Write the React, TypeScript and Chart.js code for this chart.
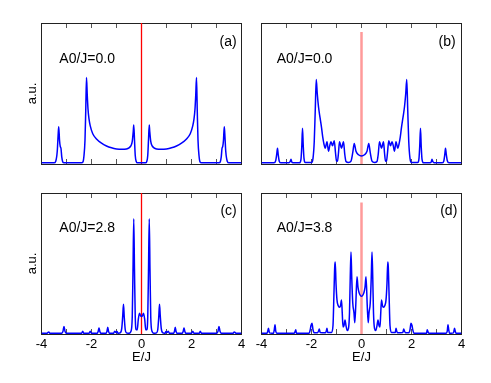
import React, { useEffect, useRef } from 'react';
import { Chart, registerables } from 'chart.js';

Chart.register(...registerables);

const FONT = '"Liberation Sans", Arial, Helvetica, sans-serif';

// ---------- axis ticks / titles ----------
const xTicks = [-4, -3, -2, -1, 0, 1, 2, 3, 4];
const xTickLabels = ['-4', '', '-2', '', '0', '', '2', '', '4'];
const xTitle = 'E/J';
const yTitle = 'a.u.';

// ---------- panel texts ----------
const panelLabels = ['A0/J=0.0', 'A0/J=0.0', 'A0/J=2.8', 'A0/J=3.8'];
const panelTags = ['(a)', '(b)', '(c)', '(d)'];

// ---------- red marker line at E=0 (height in plot units) ----------
const markerTops = [1, 0.936, 1, 0.932];

// ---------- panel (a) ----------
const energyA = [-4, -3.5, -3.43, -3.37, -3.33, -3.31, -3.28, -3.25, -3.22, -3.19, -3.15, -3.1,
  -2.4, -2.34, -2.3, -2.26, -2.23, -2.2, -2.17, -2.14, -2.1, -2.05, -1.95, -1.8,
  -1.6, -1.4, -1.2, -1.0, -0.8, -0.6, -0.5, -0.42, -0.37, -0.33, -0.31, -0.28, -0.25, -0.21, -0.16,
  0,
  0.16, 0.21, 0.25, 0.28, 0.31, 0.33, 0.37, 0.42, 0.5, 0.6, 0.8, 1.0, 1.2, 1.4, 1.6,
  1.8, 1.95, 2.05, 2.1, 2.14, 2.17, 2.2, 2.23, 2.26, 2.3, 2.34, 2.4,
  3.1, 3.15, 3.19, 3.22, 3.25, 3.28, 3.31, 3.33, 3.37, 3.43, 3.5, 4];
const dosA = [0.008, 0.008, 0.02, 0.09, 0.22, 0.265, 0.17, 0.125, 0.11, 0.05, 0.015, 0.008,
  0.008, 0.015, 0.06, 0.17, 0.38, 0.613, 0.49, 0.39, 0.32, 0.27, 0.215, 0.178,
  0.148, 0.128, 0.115, 0.107, 0.104, 0.107, 0.115, 0.13, 0.16, 0.23, 0.276, 0.17, 0.06, 0.018, 0.008,
  0.008,
  0.008, 0.018, 0.06, 0.17, 0.276, 0.23, 0.16, 0.13, 0.115, 0.107, 0.104, 0.107, 0.115, 0.128, 0.148,
  0.178, 0.215, 0.27, 0.32, 0.39, 0.49, 0.613, 0.38, 0.17, 0.06, 0.015, 0.008,
  0.008, 0.015, 0.05, 0.11, 0.125, 0.17, 0.265, 0.22, 0.09, 0.02, 0.008, 0.008];

// ---------- panel (b) ----------
const energyB = [-4, -3.5, -3.43, -3.39, -3.36, -3.33, -3.29, -3.22,
  -2.9, -2.85, -2.82, -2.79, -2.74,
  -2.48, -2.42, -2.39, -2.36, -2.33, -2.3, -2.25,
  -2.0, -1.94, -1.89, -1.85, -1.81, -1.77, -1.72, -1.66, -1.6, -1.55, -1.5, -1.45,
  -1.38, -1.32, -1.27, -1.22, -1.16, -1.09, -1.04, -1.0, -0.96, -0.92, -0.88, -0.8, -0.72, -0.67, -0.62, -0.52, -0.42, -0.35, -0.29, -0.22, -0.12,
  0,
  0.12, 0.22, 0.29, 0.35, 0.42, 0.52, 0.62, 0.67, 0.72, 0.8, 0.88, 0.92, 0.96, 1.0, 1.04, 1.09, 1.16, 1.22, 1.27, 1.32, 1.38,
  1.45, 1.5, 1.55, 1.6, 1.66, 1.72, 1.77, 1.81, 1.85, 1.89, 1.94, 2.0,
  2.25, 2.3, 2.33, 2.36, 2.39, 2.42, 2.48,
  2.74, 2.79, 2.82, 2.85, 2.9,
  3.22, 3.29, 3.33, 3.36, 3.39, 3.43, 3.5, 4];
const dosB = [0.008, 0.008, 0.025, 0.07, 0.111, 0.065, 0.02, 0.008,
  0.008, 0.018, 0.033, 0.015, 0.008,
  0.008, 0.035, 0.12, 0.253, 0.13, 0.04, 0.01,
  0.01, 0.04, 0.16, 0.38, 0.599, 0.5, 0.406, 0.33, 0.26, 0.19, 0.14, 0.112,
  0.158, 0.09, 0.13, 0.158, 0.13, 0.165, 0.08, 0.022, 0.02, 0.08, 0.158, 0.112, 0.158, 0.07, 0.018, 0.01, 0.02, 0.08, 0.146, 0.09, 0.066,
  0.057,
  0.066, 0.09, 0.146, 0.08, 0.02, 0.01, 0.018, 0.07, 0.158, 0.112, 0.158, 0.08, 0.02, 0.022, 0.08, 0.165, 0.13, 0.158, 0.13, 0.09, 0.158,
  0.112, 0.14, 0.19, 0.26, 0.33, 0.406, 0.5, 0.599, 0.38, 0.16, 0.04, 0.01,
  0.01, 0.04, 0.13, 0.253, 0.12, 0.035, 0.008,
  0.008, 0.015, 0.033, 0.018, 0.008,
  0.008, 0.02, 0.065, 0.111, 0.07, 0.025, 0.008, 0.008];

// ---------- panel (c) ----------
const energyC = [-4, -3.78, -3.74, -3.71, -3.66,
  -3.2, -3.14, -3.1, -3.06, -3.0,
  -2.4, -2.35, -2.31,
  -2.1, -2.05, -2.0,
  -1.77, -1.73, -1.7, -1.67, -1.63,
  -1.42, -1.38, -1.35, -1.32, -1.28,
  -1.12, -1.07, -1.02, -0.98, -0.94,
  -0.86, -0.79, -0.75, -0.72, -0.69, -0.65, -0.6,
  -0.5, -0.42, -0.37, -0.34, -0.31, -0.28, -0.25, -0.21,
  -0.17, -0.13, -0.08, -0.04,
  0,
  0.04, 0.08, 0.13, 0.17,
  0.21, 0.25, 0.28, 0.31, 0.34, 0.37, 0.42, 0.5,
  0.6, 0.65, 0.69, 0.72, 0.75, 0.79, 0.86,
  0.94, 0.98, 1.02, 1.07, 1.12,
  1.28, 1.32, 1.35, 1.38, 1.42,
  1.63, 1.67, 1.7, 1.73, 1.77,
  2.0, 2.05, 2.1,
  2.31, 2.35, 2.4,
  3.0, 3.06, 3.1, 3.14, 3.2,
  3.66, 3.71, 3.74, 3.78, 4];
const dosC = [0.005, 0.005, 0.012, 0.015, 0.005,
  0.005, 0.02, 0.054, 0.02, 0.005,
  0.005, 0.02, 0.005,
  0.005, 0.02, 0.005,
  0.005, 0.02, 0.042, 0.02, 0.005,
  0.005, 0.02, 0.047, 0.02, 0.005,
  0.005, 0.02, 0.01, 0.018, 0.005,
  0.008, 0.04, 0.13, 0.211, 0.12, 0.03, 0.008,
  0.005, 0.02, 0.12, 0.45, 0.817, 0.45, 0.12, 0.03,
  0.03, 0.1, 0.148, 0.13,
  0.124,
  0.13, 0.148, 0.1, 0.03,
  0.03, 0.12, 0.45, 0.817, 0.45, 0.12, 0.02, 0.005,
  0.008, 0.03, 0.12, 0.211, 0.13, 0.04, 0.008,
  0.005, 0.018, 0.01, 0.02, 0.005,
  0.005, 0.02, 0.047, 0.02, 0.005,
  0.005, 0.02, 0.042, 0.02, 0.005,
  0.005, 0.02, 0.005,
  0.005, 0.02, 0.005,
  0.005, 0.02, 0.054, 0.02, 0.005,
  0.005, 0.015, 0.012, 0.005, 0.005];

// ---------- panel (d) ----------
const energyD = [-4, -3.78, -3.75, -3.72, -3.68,
  -3.52, -3.49, -3.46, -3.43, -3.38,
  -2.7, -2.66, -2.63, -2.6,
  -2.1, -2.05, -2.02, -1.98, -1.94, -1.88,
  -1.76, -1.72, -1.69, -1.65,
  -1.45, -1.41, -1.38, -1.35,
  -1.2, -1.14, -1.1, -1.07, -1.05, -1.02, -0.98, -0.93, -0.88, -0.84, -0.8, -0.77, -0.74, -0.7, -0.66,
  -0.62, -0.57, -0.52, -0.48, -0.45, -0.42, -0.39, -0.35, -0.3, -0.27, -0.23, -0.18, -0.14, -0.09, -0.04,
  0,
  0.04, 0.09, 0.14, 0.18, 0.23, 0.27, 0.3, 0.35, 0.39, 0.42, 0.45, 0.48, 0.52, 0.57, 0.62,
  0.66, 0.7, 0.74, 0.77, 0.8, 0.84, 0.88, 0.93, 0.98, 1.02, 1.05, 1.07, 1.1, 1.14, 1.2,
  1.35, 1.38, 1.41, 1.45,
  1.65, 1.69, 1.72, 1.76,
  1.88, 1.94, 1.98, 2.02, 2.05, 2.1,
  2.6, 2.63, 2.66, 2.7,
  3.38, 3.43, 3.46, 3.49, 3.52,
  3.68, 3.72, 3.75, 3.78, 4];
const dosD = [0.005, 0.005, 0.02, 0.04, 0.008,
  0.005, 0.03, 0.066, 0.02, 0.005,
  0.005, 0.015, 0.03, 0.005,
  0.005, 0.03, 0.06, 0.077, 0.03, 0.008,
  0.008, 0.02, 0.035, 0.01,
  0.008, 0.02, 0.04, 0.01,
  0.01, 0.06, 0.3, 0.48, 0.511, 0.36, 0.24, 0.2, 0.19, 0.2, 0.242, 0.15, 0.05, 0.06, 0.1,
  0.06, 0.025, 0.04, 0.15, 0.4, 0.582, 0.4, 0.22, 0.15, 0.08, 0.2, 0.406, 0.33, 0.29, 0.272,
  0.268,
  0.272, 0.29, 0.33, 0.406, 0.2, 0.08, 0.15, 0.22, 0.4, 0.582, 0.4, 0.15, 0.04, 0.025, 0.06,
  0.1, 0.06, 0.05, 0.15, 0.242, 0.2, 0.19, 0.2, 0.24, 0.36, 0.511, 0.48, 0.3, 0.06, 0.01,
  0.01, 0.04, 0.02, 0.008,
  0.01, 0.035, 0.02, 0.008,
  0.008, 0.03, 0.077, 0.06, 0.03, 0.005,
  0.005, 0.03, 0.015, 0.005,
  0.005, 0.02, 0.066, 0.03, 0.005,
  0.008, 0.04, 0.02, 0.005, 0.005];

const energies = [energyA, energyB, energyC, energyD];
const dosValues = [dosA, dosB, dosC, dosD];

// ---------- layout / style of the four panels ----------
type PanelCfg = {
  left: number; top: number; width: number; height: number;
  leftW: number; topH: number; bottomH: number; rightPad: number;
  showY: boolean; showX: boolean;
  markerColor: string; markerWidth: number;
  labelDx: number; labelDy: number; tagDx: number; tagDy: number;
};

const panelCfgs: PanelCfg[] = [
  { left: 0, top: 0, width: 252, height: 178, leftW: 41.5, topH: 23, bottomH: 14, rightPad: 10.5, showY: true, showX: false,
    markerColor: '#ff0000', markerWidth: 1.3, labelDx: 17.8, labelDy: 36.3, tagDx: 4.8, tagDy: 18.7 },
  { left: 252, top: 0, width: 239, height: 178, leftW: 9.5, topH: 23, bottomH: 14, rightPad: 29.5, showY: false, showX: false,
    markerColor: '#ff9a9a', markerWidth: 2.5, labelDx: 15.2, labelDy: 36.3, tagDx: 5.8, tagDy: 18.7 },
  { left: 0, top: 178, width: 252, height: 205, leftW: 41.5, topH: 15, bottomH: 49, rightPad: 10.5, showY: true, showX: true,
    markerColor: '#ff0000', markerWidth: 1.3, labelDx: 17.8, labelDy: 35.3, tagDx: 4.8, tagDy: 18 },
  { left: 252, top: 178, width: 239, height: 205, leftW: 9.5, topH: 15, bottomH: 49, rightPad: 29.5, showY: false, showX: true,
    markerColor: '#ff9a9a', markerWidth: 2.5, labelDx: 15.2, labelDy: 35.3, tagDx: 4.2, tagDy: 18 },
];

const panelTextPlugin = {
  id: 'panelText',
  afterDatasetsDraw(chart: any, _args: any, opts: any) {
    const { ctx, chartArea } = chart;
    ctx.save();
    ctx.fillStyle = '#000';
    ctx.font = `14px ${FONT}`;
    ctx.textBaseline = 'middle';
    ctx.textAlign = 'left';
    ctx.fillText(opts.label, chartArea.left + opts.labelDx, chartArea.top + opts.labelDy);
    ctx.textAlign = 'right';
    ctx.fillText(opts.tag, chartArea.right - opts.tagDx, chartArea.top + opts.tagDy);
    ctx.restore();
  },
};

function buildScales(p: PanelCfg): any {
  const tickColor = '#555';
  const frameColor = '#222';
  const setTicks = (s: any) => { s.ticks = xTicks.map((v) => ({ value: v })); };
  return {
    x: {
      type: 'linear', position: 'bottom', min: -4, max: 4,
      afterBuildTicks: setTicks,
      afterFit: (s: any) => { s.height = p.bottomH; },
      grid: { display: true, drawOnChartArea: false, drawTicks: true, tickLength: -5, color: tickColor, lineWidth: 1 },
      border: { display: true, color: frameColor, width: 1 },
      ticks: {
        display: p.showX, autoSkip: false, maxRotation: 0, minRotation: 0, padding: 0, color: '#000',
        font: { size: 13, family: FONT, lineHeight: 2.35 },
        callback: (_v: any, i: number) => xTickLabels[i],
      },
      title: {
        display: p.showX, text: xTitle, color: '#000',
        font: { size: 13, family: FONT }, padding: { top: 0, bottom: 17.5 },
      },
    },
    xTop: {
      type: 'linear', position: 'top', min: -4, max: 4,
      afterBuildTicks: setTicks,
      afterFit: (s: any) => { s.height = p.topH; },
      grid: { display: true, drawOnChartArea: false, drawTicks: true, tickLength: -5, color: tickColor, lineWidth: 1 },
      border: { display: true, color: frameColor, width: 1 },
      ticks: { display: false },
    },
    y: {
      type: 'linear', position: 'left', min: 0, max: 1,
      afterFit: (s: any) => { s.width = p.leftW; },
      grid: { display: false },
      border: { display: true, color: frameColor, width: 1 },
      ticks: { display: false },
      title: {
        display: p.showY, text: yTitle, color: '#000',
        font: { size: 13, family: FONT }, padding: { top: 25, bottom: 0 },
      },
    },
    yRight: {
      type: 'linear', position: 'right', min: 0, max: 1,
      afterFit: (s: any) => { s.width = 0; },
      grid: { display: false },
      border: { display: true, color: frameColor, width: 1 },
      ticks: { display: false },
    },
  };
}

function Panel({ index }: { index: number }) {
  const ref = useRef<HTMLCanvasElement>(null);
  const p = panelCfgs[index];
  useEffect(() => {
    const e = energies[index];
    const d = dosValues[index];
    const chart = new Chart(ref.current as HTMLCanvasElement, {
      type: 'line',
      data: {
        datasets: [
          {
            data: e.map((x, i) => ({ x, y: d[i] })),
            borderColor: '#0000ff',
            borderWidth: 1.5,
            pointRadius: 0,
            fill: false,
            cubicInterpolationMode: 'monotone',
          },
          {
            data: [{ x: 0, y: 0 }, { x: 0, y: markerTops[index] }],
            borderColor: p.markerColor,
            borderWidth: p.markerWidth,
            pointRadius: 0,
            fill: false,
          },
        ],
      } as any,
      options: {
        responsive: false,
        maintainAspectRatio: false,
        animation: false,
        events: [],
        layout: { padding: { left: 0, top: 0, right: p.rightPad, bottom: 0 } },
        scales: buildScales(p),
        plugins: {
          legend: { display: false },
          tooltip: { enabled: false },
          panelText: {
            label: panelLabels[index], tag: panelTags[index],
            labelDx: p.labelDx, labelDy: p.labelDy, tagDx: p.tagDx, tagDy: p.tagDy,
          },
        } as any,
      },
      plugins: [panelTextPlugin],
    });
    return () => chart.destroy();
  }, [index]);
  return (
    <div style={{ position: 'absolute', left: p.left, top: p.top, width: p.width, height: p.height }}>
      <canvas ref={ref} width={p.width} height={p.height} style={{ display: 'block', width: p.width, height: p.height }} />
    </div>
  );
}

export default function App() {
  Chart.defaults.font.family = FONT;
  Chart.defaults.color = '#000';
  return (
    <div style={{ position: 'absolute', left: 0, top: 0, width: 491, height: 383, background: '#fff', overflow: 'hidden' }}>
      {[0, 1, 2, 3].map((i) => <Panel key={i} index={i} />)}
    </div>
  );
}
